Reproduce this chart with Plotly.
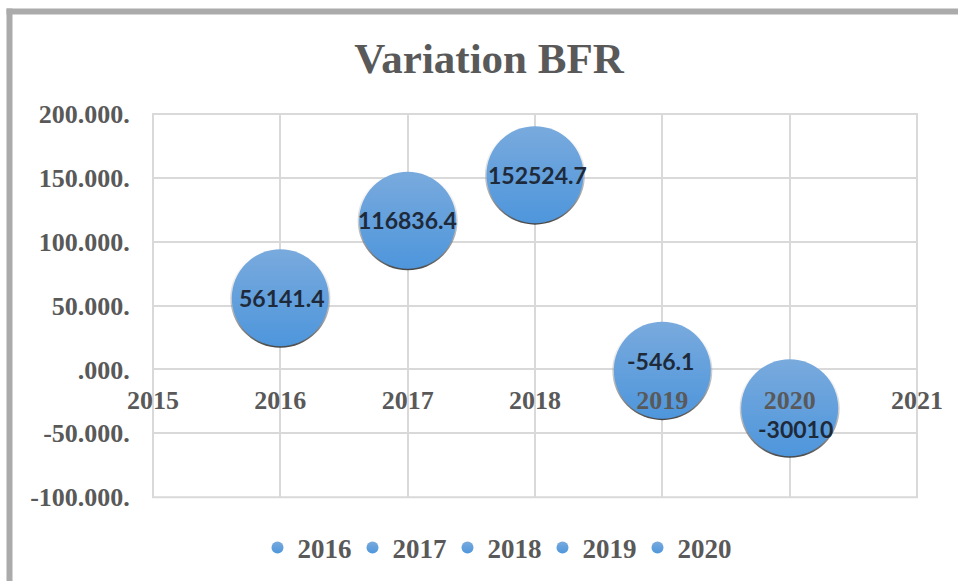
import plotly.graph_objects as go

years = [2016, 2017, 2018, 2019, 2020]
values = [56141.4, 116836.4, 152524.7, -546.1, -30010]
value_labels = ["56141.4", "116836.4", "152524.7", "-546.1", "-30010"]
series_names = ["2016", "2017", "2018", "2019", "2020"]
x_ticks = [2015, 2016, 2017, 2018, 2019, 2020, 2021]
y_ticks = [-100000, -50000, 0, 50000, 100000, 150000, 200000]
y_tick_labels = ["-100.000.", "-50.000.", ".000.", "50.000.", "100.000.", "150.000.", "200.000."]

# label offsets in pixels (style only)
label_xshift = [2, 0, 2, -2, 6]
label_yshift = [0, 0, 0, 9, -21]

W, H = 958, 581
ML, MR, MT, MB = 153, 41, 114, 76
PW, PH = W - ML - MR, H - MT - MB
YDOM0 = 0.02

fig = go.Figure()

BLUE_TOP = "#79aadd"
BLUE_BOT = "#4e96dc"

for i, name in enumerate(series_names):
    # shadow
    fig.add_trace(go.Scatter(
        x=[years[i]], y=[values[i]], mode="markers", showlegend=False, hoverinfo="skip",
        marker=dict(size=100, color="rgba(255,255,255,0)",
                    gradient=dict(type="vertical", color="rgba(60,60,60,0.95)"),
                    line=dict(width=0)),
    ))
    fig.add_trace(go.Scatter(
        x=[years[i]], y=[values[i]], mode="markers", name="<b>" + name + "</b>",
        marker=dict(size=97, color=BLUE_TOP,
                    gradient=dict(type="vertical", color=BLUE_BOT),
                    line=dict(width=0)),
    ))

for i in range(len(years)):
    fig.add_annotation(x=years[i], y=values[i], text="<b>" + value_labels[i] + "</b>",
                       showarrow=False, xshift=label_xshift[i], yshift=label_yshift[i],
                       font=dict(family="Lato", size=23, color="#1e2a3a"))

grid = "#d9d9d9"
fig.update_layout(
    width=W, height=H,
    margin=dict(l=ML, r=MR, t=MT, b=MB, pad=0, autoexpand=False),
    paper_bgcolor="white", plot_bgcolor="white",
    title=dict(text="<b>Variation BFR</b>", x=489 / W, xref="container", xanchor="center",
               y=1 - 58 / H, yref="container", yanchor="middle",
               font=dict(family="Liberation Serif", size=43, color="#595959")),
    xaxis=dict(range=[2015, 2021], tickvals=x_ticks, ticktext=["<b>" + str(v) + "</b>" for v in x_ticks],
               showgrid=True, gridcolor=grid, gridwidth=2, zeroline=False, showline=False,
               anchor="free", position=YDOM0 + (1 - YDOM0) / 3,
               ticks="outside", ticklen=7, tickcolor="rgba(0,0,0,0)",
               tickfont=dict(family="Liberation Serif", size=26, color="#595959")),
    yaxis=dict(range=[-100000, 200000], tickvals=y_ticks, ticktext=["<b>" + t + "</b>" for t in y_tick_labels],
               domain=[YDOM0, 1],
               showgrid=True, gridcolor=grid, gridwidth=2, zeroline=False, showline=False,
               ticks="outside", ticklen=17, tickcolor="rgba(0,0,0,0)",
               tickfont=dict(family="Liberation Serif", size=26, color="#595959")),
    legend=dict(orientation="h", x=495 / W, xref="container", xanchor="center",
                y=1 - 548 / H, yref="container", yanchor="middle",
                entrywidth=50, entrywidthmode="pixels", itemsizing="constant",
                font=dict(family="Liberation Serif", size=27, color="#595959")),
    showlegend=True,
)

# plot-area frame
fig.add_shape(type="rect", xref="x domain", yref="y domain", x0=0, x1=1, y0=0, y1=1,
              line=dict(color=grid, width=2), layer="below")

# chart frame (gray border at top and left)
def px_to_paper_x(px):
    return (px - ML) / PW

def px_to_paper_y(py):
    return (H - MB - py) / PH

fig.add_shape(type="line", xref="paper", yref="paper",
              x0=px_to_paper_x(9.5), x1=px_to_paper_x(9.5),
              y0=px_to_paper_y(H + 5), y1=px_to_paper_y(8.5),
              line=dict(color="#ababab", width=6))
fig.add_shape(type="line", xref="paper", yref="paper",
              x0=px_to_paper_x(6.5), x1=px_to_paper_x(W + 5),
              y0=px_to_paper_y(11.5), y1=px_to_paper_y(11.5),
              line=dict(color="#ababab", width=6))

fig.write_html("out.html", config={"displayModeBar": False},
               post_script="document.body.style.margin='0';document.body.style.overflow='hidden';")
